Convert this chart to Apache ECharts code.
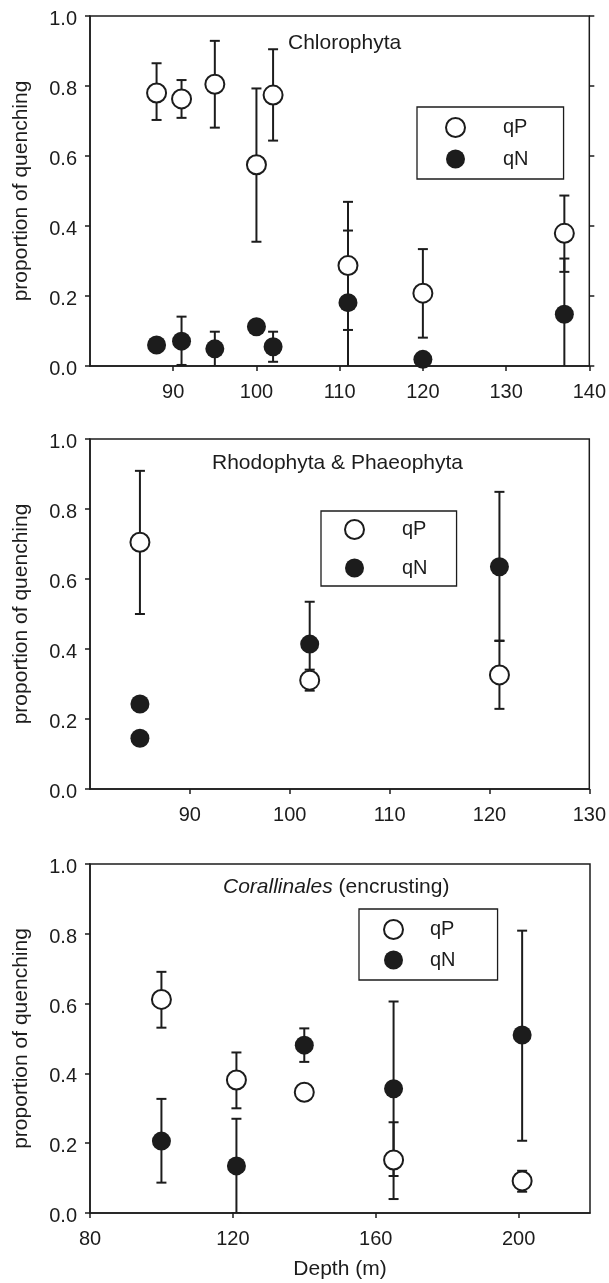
<!DOCTYPE html>
<html>
<head>
<meta charset="utf-8">
<script src="https://cdn.jsdelivr.net/npm/echarts@6/dist/echarts.min.js"></script>
<style>
  html, body { margin: 0; padding: 0; background: #fff; }
  #chart { width: 609px; height: 1283px; }
</style>
</head>
<body>
<div id="chart"></div>
<script>
// Chlorophyta
const chloroDepth = [88, 91, 95, 100, 102, 111, 120, 137];
const chloroQP = [0.78, 0.763, 0.805, 0.575, 0.774, 0.287, 0.208, 0.379];
const chloroQPLow = [0.703, 0.709, 0.681, 0.355, 0.644, 0.103, 0.081, 0.269];
const chloroQPHigh = [0.865, 0.817, 0.929, 0.793, 0.905, 0.469, 0.334, 0.487];
const chloroQN = [0.06, 0.071, 0.049, 0.112, 0.055, 0.181, 0.019, 0.148];
const chloroQNLow = [null, 0.003, 0.0, null, 0.012, -0.025, null, -0.011];
const chloroQNHigh = [null, 0.141, 0.098, null, 0.098, 0.387, null, 0.307];

// Rhodophyta & Phaeophyta
const rhodoQPDepth = [85, 102, 121];
const rhodoQP = [0.705, 0.311, 0.326];
const rhodoQPLow = [0.5, 0.281, 0.229];
const rhodoQPHigh = [0.909, 0.341, 0.423];
const rhodoQNDepth = [85, 85, 102, 121];
const rhodoQN = [0.243, 0.145, 0.414, 0.635];
const rhodoQNLow = [null, null, 0.293, 0.424];
const rhodoQNHigh = [null, null, 0.535, 0.849];

// Corallinales (encrusting)
const coralDepth = [100, 121, 140, 165, 201];
const coralQP = [0.612, 0.381, 0.346, 0.152, 0.092];
const coralQPLow = [0.531, 0.3, null, 0.04, 0.061];
const coralQPHigh = [0.691, 0.46, null, 0.26, 0.121];
const coralQN = [0.206, 0.135, 0.481, 0.356, 0.51];
const coralQNLow = [0.087, 0.0, 0.433, 0.106, 0.207];
const coralQNHigh = [0.327, 0.27, 0.529, 0.606, 0.809];

const chloroXTicks = [90, 100, 110, 120, 130, 140];
const rhodoXTicks = [90, 100, 110, 120, 130];
const coralXTicks = [80, 120, 160, 200];

const ink = "#1c1c1c";
const font = "'Liberation Sans', Arial, Helvetica, sans-serif";

const points = (xs, ys) => xs.map((x, i) => [x, ys[i]]);
const bars = (xs, lo, hi) =>
  xs.map((x, i) => [x, lo[i], hi[i]]).filter((d) => d[1] !== null);

// vertical error bar with caps, clipped by the grid
function renderError(params, api) {
  const x = api.value(0);
  const top = api.coord([x, api.value(2)]);
  const bot = api.coord([x, api.value(1)]);
  const w = 5;
  const style = { stroke: ink, lineWidth: 2 };
  return {
    type: "group",
    children: [
      { type: "line", shape: { x1: top[0], y1: top[1], x2: bot[0], y2: bot[1] }, style },
      { type: "line", shape: { x1: top[0] - w, y1: top[1], x2: top[0] + w, y2: top[1] }, style },
      { type: "line", shape: { x1: bot[0] - w, y1: bot[1], x2: bot[0] + w, y2: bot[1] }, style },
    ],
  };
}

const axisLine = { show: true, lineStyle: { color: ink, width: 1.5 } };
const tickStyle = { lineStyle: { color: ink, width: 1.5 } };

function xAxis(grid, min, max, ticks, name) {
  return {
    type: "value",
    gridIndex: grid,
    min: min,
    max: max,
    position: "bottom",
    axisLine: axisLine,
    axisTick: { show: true, length: 5, customValues: ticks, ...tickStyle },
    axisLabel: { customValues: ticks, fontSize: 20, color: ink, fontFamily: font, margin: 16 },
    splitLine: { show: false },
    name: name || "",
    nameLocation: "middle",
    nameGap: 46,
    nameTextStyle: { fontSize: 21, color: ink, fontFamily: font },
  };
}

function yAxis(grid) {
  return {
    type: "value",
    gridIndex: grid,
    min: 0,
    max: 1,
    interval: 0.2,
    position: "left",
    axisLine: axisLine,
    axisTick: { show: true, length: 5, ...tickStyle },
    axisLabel: {
      color: ink,
      margin: 13,
      formatter: (v) => "{v|" + v.toFixed(1) + "}",
      rich: { v: { fontSize: 20, color: ink, fontFamily: font, padding: [7, 0, 0, 0] } },
    },
    splitLine: { show: false },
    name: "proportion of quenching",
    nameLocation: "middle",
    nameGap: 58,
    nameTextStyle: { fontSize: 21, color: ink, fontFamily: font },
  };
}

function legend(left, top, padding, gap, textPad) {
  return {
    left: left,
    top: top,
    orient: "vertical",
    selectedMode: false,
    data: ["qP", "qN"],
    icon: "circle",
    itemWidth: 19,
    itemHeight: 19,
    itemGap: gap,
    padding: padding,
    borderColor: ink,
    borderWidth: 1.3,
    textStyle: { fontSize: 20, color: ink, fontFamily: font, padding: [0, 0, 0, textPad] },
  };
}

const openStyle = { color: "#fff", borderColor: ink, borderWidth: 2, opacity: 1 };
const filledStyle = { color: ink, borderColor: ink, borderWidth: 0, opacity: 1 };

function panelSeries(grid, yIdx, qpPts, qnPts, qpErr, qnErr) {
  return [
    { type: "custom", name: "qP err", xAxisIndex: grid, yAxisIndex: yIdx, renderItem: renderError, data: qpErr, clip: true, z: 2, silent: true },
    { type: "custom", name: "qN err", xAxisIndex: grid, yAxisIndex: yIdx, renderItem: renderError, data: qnErr, clip: true, z: 2, silent: true },
    { type: "scatter", name: "qP", xAxisIndex: grid, yAxisIndex: yIdx, data: qpPts, symbol: "circle", symbolSize: 19, itemStyle: openStyle, z: 4 },
    { type: "scatter", name: "qN", xAxisIndex: grid, yAxisIndex: yIdx, data: qnPts, symbol: "circle", symbolSize: 19, itemStyle: filledStyle, z: 5 },
  ];
}

const chart = echarts.init(document.getElementById("chart"), null, { renderer: "canvas" });

const gridBase = { left: 90, right: 19, show: true, borderColor: ink, borderWidth: 1.5, backgroundColor: "transparent" };

// ticks on the right edge of the top panel only
const rightAxis = {
  type: "value",
  gridIndex: 0,
  min: 0,
  max: 1,
  interval: 0.2,
  position: "right",
  axisLine: { show: false },
  axisTick: { show: true, length: 5, ...tickStyle },
  axisLabel: { show: false },
  splitLine: { show: false },
};

const titleStyle = { fontSize: 21, fontWeight: "normal", color: ink, fontFamily: font, lineHeight: 24 };

const option = {
  animation: false,
  textStyle: { fontFamily: font },
  title: [
    { text: "Chlorophyta", left: 288, top: 31, padding: 0, textStyle: titleStyle },
    { text: "Rhodophyta & Phaeophyta", left: 212, top: 451, padding: 0, textStyle: titleStyle },
    {
      text: "{i|Corallinales} (encrusting)",
      left: 223,
      top: 875,
      padding: 0,
      textStyle: { ...titleStyle, rich: { i: { fontStyle: "italic", fontSize: 21, color: ink, fontFamily: font } } },
    },
  ],
  legend: [
    legend(417, 107, [10, 35, 10, 28], 11, 33),
    legend(321, 511, [8, 29, 8, 23], 18, 33),
    legend(359, 909, [10, 42, 10, 24], 10, 22),
  ],
  grid: [
    { ...gridBase, top: 16, height: 350 },
    { ...gridBase, top: 439, height: 350 },
    { ...gridBase, top: 864, height: 349 },
  ],
  xAxis: [
    xAxis(0, 80, 140, chloroXTicks),
    xAxis(1, 80, 130, rhodoXTicks),
    xAxis(2, 80, 220, coralXTicks, "Depth (m)"),
  ],
  yAxis: [yAxis(0), rightAxis, yAxis(1), yAxis(2)],
  series: [
    ...panelSeries(
      0, 0,
      points(chloroDepth, chloroQP),
      points(chloroDepth, chloroQN),
      bars(chloroDepth, chloroQPLow, chloroQPHigh),
      bars(chloroDepth, chloroQNLow, chloroQNHigh)
    ),
    ...panelSeries(
      1, 2,
      points(rhodoQPDepth, rhodoQP),
      points(rhodoQNDepth, rhodoQN),
      bars(rhodoQPDepth, rhodoQPLow, rhodoQPHigh),
      bars(rhodoQNDepth, rhodoQNLow, rhodoQNHigh)
    ),
    ...panelSeries(
      2, 3,
      points(coralDepth, coralQP),
      points(coralDepth, coralQN),
      bars(coralDepth, coralQPLow, coralQPHigh),
      bars(coralDepth, coralQNLow, coralQNHigh)
    ),
  ],
};

chart.setOption(option);
</script>
</body>
</html>
